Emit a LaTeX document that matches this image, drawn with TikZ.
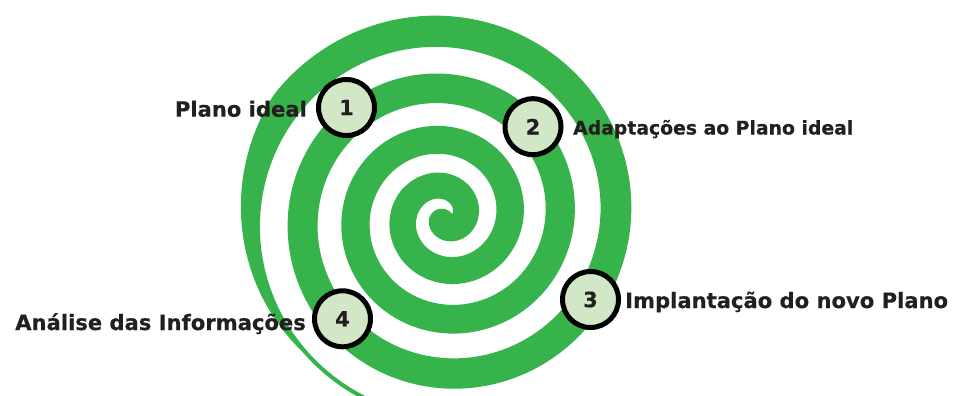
\documentclass[tikz,border=0pt]{standalone}
\usepackage{fontspec}
\setmainfont{DejaVu Sans}[BoldFeatures={FakeBold=0.4}]
\definecolor{spiralgreen}{HTML}{36B34A}
\definecolor{discfill}{HTML}{D2E7C6}
\definecolor{inkdark}{HTML}{231F20}
\newcommand{\labelfont}{\fontsize{21.1}{25}\selectfont\bfseries}
\newcommand{\smalllabelfont}{\fontsize{18.8}{22}\selectfont\bfseries}
\tikzset{
  stepdisc/.style={circle, draw=black, line width=5pt, fill=discfill,
    minimum size=56pt, inner sep=0pt, font=\labelfont, text=inkdark},
  steplabel/.style={inner sep=0pt, font=\labelfont, text=inkdark},
  declare function={
    rc(\u)=20+42*\u+2.75*\u*\u;
    hw(\u)=13+0.8*\u;
    tw(\u)=min(2*hw(\u),max(19-125*(\u-3.5),4));
  }
}
\begin{document}
\begin{tikzpicture}[x=1pt,y=-1pt]
  \clip (0,0) rectangle (958,396);
  \fill[white] (0,0) rectangle (958,396);
  % spiral core (inner start)
  \draw[spiralgreen, line width=26pt, line cap=round]
    plot[domain=-0.35:0.5, samples=60, variable=\t]
      ({445+rc(\t)*cos(360*\t)},{217-rc(\t)*sin(360*\t)});
  % spiral body with tapering tail
  \fill[spiralgreen]
    plot[domain=0.4:3.3, samples=400, variable=\t]
      ({445+(rc(\t)+hw(\t))*cos(360*\t)},{217-(rc(\t)+hw(\t))*sin(360*\t)})
    -- plot[domain=3.3:3.72, samples=80, variable=\t]
      ({445+(rc(\t)-hw(\t)+tw(\t))*cos(360*\t)},{217-(rc(\t)-hw(\t)+tw(\t))*sin(360*\t)})
    -- plot[domain=3.72:0.4, samples=400, variable=\t]
      ({445+(rc(\t)-hw(\t))*cos(360*\t)},{217-(rc(\t)-hw(\t))*sin(360*\t)})
    -- cycle;
  % step discs
  \node[stepdisc] (s1) at (346.5,107.5) {1};
  \node[stepdisc] (s2) at (533,126.7) {2};
  \node[stepdisc] (s3) at (590.5,299.5) {3};
  \node[stepdisc] (s4) at (342.5,318.8) {4};
  % labels
  \node[steplabel, anchor=base east] (l1) at (307,116.7) {Plano ideal};
  \node[steplabel, font=\smalllabelfont, anchor=base west] (l2) at (573,134.5) {Adaptações ao Plano ideal};
  \node[steplabel, anchor=base west] (l3) at (625,308) {Implantação do novo Plano};
  \node[steplabel, anchor=base east] (l4) at (306,330) {Análise das Informações};
\end{tikzpicture}
\end{document}
